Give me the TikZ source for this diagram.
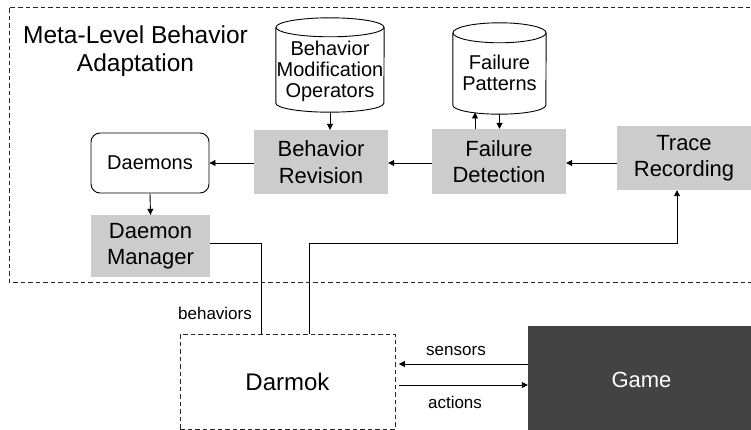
\documentclass[tikz,border=0pt]{standalone}
\usepackage{fontspec}
\setmainfont{Liberation Sans}
\usetikzlibrary{arrows.meta,calc}
\definecolor{boxgray}{HTML}{CCCCCC}
\definecolor{gamegray}{HTML}{434343}
\begin{document}
\begin{tikzpicture}[x=1pt,y=-1pt,
  line/.style={line width=0.9pt,black},
  arr/.style={line, -{Triangle[length=6pt,width=6pt]}},
  dashbox/.style={draw=black!85, line width=0.9pt, dash pattern=on 4.5pt off 3pt},
  graybox/.style={fill=boxgray, draw=none, align=center, inner sep=0pt, font=\fontsize{22}{26.5}\selectfont},
  cylbody/.style={draw=none, inner sep=0pt},
  cyltext/.style={align=center, inner sep=0pt, font=\fontsize{20}{21}\selectfont},
  lbl/.style={inner sep=0pt, font=\fontsize{17}{20}\selectfont}]
\useasboundingbox (0,0) rectangle (751,430);
\clip (0,0) rectangle (751,430);
% outer meta-level region
\draw[dashbox] (780,7) -- (9,7) -- (9,282) -- (780,282);
\node[align=center, inner sep=0pt, font=\fontsize{24.5}{28}\selectfont] (title) at (135.5,51) {Meta-Level Behavior\\Adaptation};
% cylinders
\node[cylbody, minimum width=108pt, minimum height=94pt] (bmo) at (330,65) {};
\draw[line] ([yshift=-9.5pt]bmo.north west) -- ([yshift=9pt]bmo.south west) arc[start angle=180, end angle=360, x radius=54pt, y radius=9pt] -- ([yshift=-9.5pt]bmo.north east);
\draw[line] ([yshift=-9.5pt]bmo.north) ellipse [x radius=54pt, y radius=9.5pt];
\node[cyltext] (bmot) at (330,71) {Behavior\\Modification\\Operators};
\node[cylbody, minimum width=93pt, minimum height=91pt] (fp) at (499.5,68.5) {};
\draw[line] ([yshift=-10pt]fp.north west) -- ([yshift=9pt]fp.south west) arc[start angle=180, end angle=360, x radius=46.5pt, y radius=9pt] -- ([yshift=-10pt]fp.north east);
\draw[line] ([yshift=-10pt]fp.north) ellipse [x radius=46.5pt, y radius=10pt];
\node[cyltext] (fpt) at (499.5,73) {Failure\\Patterns};
% boxes
\node[graybox, minimum width=134pt, minimum height=64pt] (br) at (321,162) {Behavior\\Revision};
\node[graybox, minimum width=134pt, minimum height=65pt] (fd) at (499,161.5) {Failure\\Detection};
\node[graybox, minimum width=134pt, minimum height=64pt] (tr) at (684,158) {Trace\\Recording};
\node[draw=black, line width=0.9pt, rounded corners=9pt, minimum width=118pt, minimum height=60pt, inner sep=0pt, font=\fontsize{20}{24}\selectfont] (dm) at (150,163) {Daemons};
\node[graybox, minimum width=119pt, minimum height=62pt] (mgr) at (150.5,246) {Daemon\\Manager};
\node[dashbox, minimum width=215pt, minimum height=95pt, inner sep=0pt, font=\fontsize{24}{28}\selectfont] (darmok) at (287.5,381.5) {Darmok};
\node[fill=gamegray, draw=none, minimum width=227pt, minimum height=108pt, inner sep=0pt, text=white, font=\fontsize{22}{26}\selectfont] (game) at (641.5,380) {Game};
% helper coordinates
\coordinate (ay) at (0,163);
\coordinate (ux) at (475,112.5);
\coordinate (bx) at (261,243);
\coordinate (tx) at (309,243);
\coordinate (ty) at (677,243);
\coordinate (sy) at (0,364);
\coordinate (acy) at (0,385);
% connectors
\draw[arr] (bmo.south) -- (bmo.south |- br.north);
\draw[arr] (fd.north -| ux) -- (ux);
\draw[arr] (fp.south) -- (fp.south |- fd.north);
\draw[arr] (tr.west |- ay) -- (fd.east |- ay);
\draw[arr] (fd.west |- ay) -- (br.east |- ay);
\draw[arr] (br.west |- ay) -- (dm.east |- ay);
\draw[arr] (dm.south) -- (mgr.north);
\draw[line] (mgr.east |- bx) -- (bx) -- (darmok.north -| bx);
\draw[arr] (darmok.north -| tx) -- (tx) -- (ty) -- (tr.south -| ty);
\draw[arr, shorten >=3.5pt] (game.west |- sy) -- (darmok.east |- sy);
\draw[arr, shorten <=3.5pt] (darmok.east |- acy) -- (game.west |- acy);
% labels
\node[lbl] (lbeh) at (215,313) {behaviors};
\node[lbl] (lsen) at (456,351) {sensors};
\node[lbl] (lact) at (455,402) {actions};
\end{tikzpicture}
\end{document}
